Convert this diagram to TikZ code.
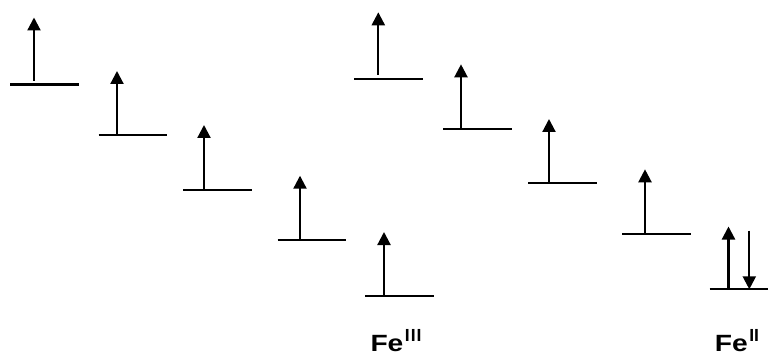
\documentclass[tikz,border=0pt]{standalone}
\usepackage{fontspec}
\setmainfont{Liberation Sans}
% slightly widened bold face for the element symbol
\newfontfamily\fefont[FakeStretch=1.2]{Liberation Sans Bold}
\usetikzlibrary{arrows.meta}

\tikzset{
  level/.style={line width=2.2pt},
  spin/.style={line width=2.2pt, -{Triangle[length=13pt,width=13pt]}},
  ionlabel/.style={anchor=base west, inner sep=0pt, font=\bfseries\fontsize{23.5}{28}\selectfont},
}
% oxidation state as a raised Roman numeral
\newcommand{\ox}[1]{\kern1.5pt\raisebox{10pt}{\fontsize{17.5}{18}\selectfont#1}}

\begin{document}
\begin{tikzpicture}[x=1pt,y=-1pt]
  \useasboundingbox (0,0) rectangle (768,358);

  % Fe(III): five singly occupied levels
  \coordinate (a1l) at (10,84.5);    \coordinate (a1r) at (79,84.5);
  \coordinate (a1s) at (34,81);      \coordinate (a1e) at (34,17.5);
  \coordinate (a2l) at (98.7,135);   \coordinate (a2r) at (167,135);
  \coordinate (a2s) at (117,135);    \coordinate (a2e) at (117,71);
  \coordinate (a3l) at (183,190);    \coordinate (a3r) at (252,190);
  \coordinate (a3s) at (204,190);    \coordinate (a3e) at (204,125);
  \coordinate (a4l) at (277.7,240);  \coordinate (a4r) at (346,240);
  \coordinate (a4s) at (300,240);    \coordinate (a4e) at (300,175.7);
  \coordinate (a5l) at (365,295.7);  \coordinate (a5r) at (433.7,295.7);
  \coordinate (a5s) at (384,295.7);  \coordinate (a5e) at (384,232);

  \foreach \i in {1,...,5} {
    \draw[level] (a\i l) -- (a\i r);
    \draw[spin] (a\i s) -- (a\i e);
  }

  % Fe(II): four singly occupied levels and one pair
  \coordinate (b1l) at (354.3,79);   \coordinate (b1r) at (423.3,79);
  \coordinate (b1s) at (378.3,75);   \coordinate (b1e) at (378.3,12.3);
  \coordinate (b2l) at (443,129.3);  \coordinate (b2r) at (511.7,129.3);
  \coordinate (b2s) at (461,129.3);  \coordinate (b2e) at (461,64.3);
  \coordinate (b3l) at (528.3,183.3); \coordinate (b3r) at (596.7,183.3);
  \coordinate (b3s) at (549,183.3);  \coordinate (b3e) at (549,119);
  \coordinate (b4l) at (622,234);    \coordinate (b4r) at (691,234);
  \coordinate (b4s) at (645,234);    \coordinate (b4e) at (645,169.3);
  \coordinate (b5l) at (709.5,289.3); \coordinate (b5r) at (768,289.3);
  \coordinate (b5s) at (728.5,289.3); \coordinate (b5e) at (728.5,226.5);
  \coordinate (b6s) at (749.3,230.7); \coordinate (b6e) at (749.3,289.3);

  \foreach \i in {1,...,5} {
    \draw[level] (b\i l) -- (b\i r);
    \draw[spin] (b\i s) -- (b\i e);
  }
  \draw[spin] (b6s) -- (b6e);

  % ion labels
  \node[ionlabel] (fe3) at (370.3,351.5) {{\fefont Fe}\ox{I\kern1ptI\kern1ptI}};
  \node[ionlabel] (fe2) at (714.7,351.5) {{\fefont Fe}\ox{II}};
\end{tikzpicture}
\end{document}
